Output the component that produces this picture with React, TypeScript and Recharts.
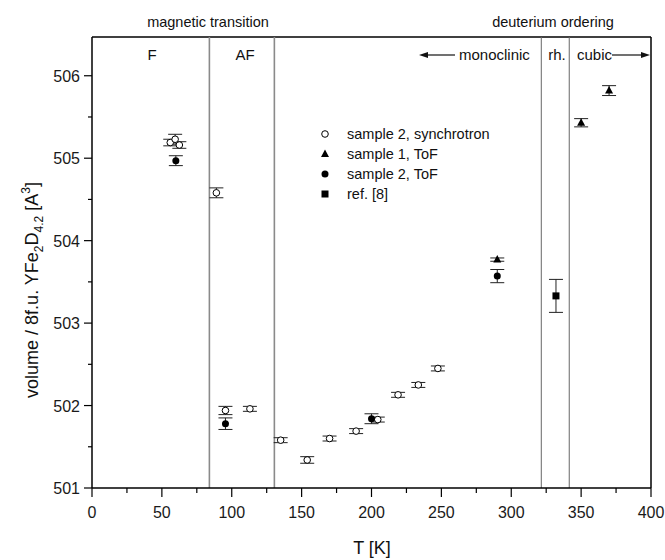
import { ScatterChart, Scatter, XAxis, YAxis, ErrorBar, ReferenceLine } from 'recharts';

// sample 2, synchrotron (open circles)
const syncT = [56, 59.5, 62.5, 89, 95.5, 113, 135, 154, 170, 189, 204.5, 219, 233.5, 247.5];
const syncV = [505.19, 505.23, 505.16, 504.58, 501.94, 501.96, 501.58, 501.34, 501.6, 501.69, 501.83, 502.13, 502.25, 502.45];
const syncErr = [0.04, 0.06, 0.04, 0.06, 0.05, 0.03, 0.03, 0.04, 0.03, 0.03, 0.03, 0.03, 0.03, 0.03];

// sample 1, ToF (triangles)
const s1T = [290, 350, 370];
const s1V = [503.77, 505.43, 505.82];
const s1Err = [0.02, 0.05, 0.06];

// sample 2, ToF (filled circles)
const s2T = [60, 95.5, 200, 290];
const s2V = [504.97, 501.78, 501.84, 503.57];
const s2Err = [0.06, 0.07, 0.06, 0.08];

// ref. [8] (square)
const refT = [332];
const refV = [503.33];
const refErr = [0.2];

const xTicks = [0, 25, 50, 75, 100, 125, 150, 175, 200, 225, 250, 275, 300, 325, 350, 375, 400];
const yTicks = [501, 501.5, 502, 502.5, 503, 503.5, 504, 504.5, 505, 505.5, 506];
const yMax = 506.47;

const phaseLines = [84, 130.5];
const structLines = [321.5, 341.5];

const toRows = (t: number[], v: number[], e: number[]) => t.map((x, i) => ({ x, y: v[i], err: e[i] }));

const syncData = toRows(syncT, syncV, syncErr);
const s1Data = toRows(s1T, s1V, s1Err);
const s2Data = toRows(s2T, s2V, s2Err);
const refData = toRows(refT, refV, refErr);

const FONT = '"Liberation Sans", Arial, sans-serif';

const OpenCircle = (p: any) => <circle cx={p.cx} cy={p.cy} r={3.3} fill="#fff" stroke="#000" strokeWidth={1} />;
const FilledCircle = (p: any) => <circle cx={p.cx} cy={p.cy} r={3.5} fill="#000" />;
const Triangle = (p: any) => (
  <polygon points={`${p.cx},${p.cy - 4.5} ${p.cx - 4},${p.cy + 3} ${p.cx + 4},${p.cy + 3}`} fill="#000" />
);
const Square = (p: any) => <rect x={p.cx - 3.5} y={p.cy - 3.5} width={7} height={7} fill="#000" />;

const XTick = (p: any) => {
  const v = p.payload.value;
  const major = v % 50 === 0;
  return (
    <g>
      <line x1={p.x} x2={p.x} y1={p.y} y2={p.y + (major ? 9 : 5)} stroke="#000" strokeWidth={1.2} />
      {major && (
        <text x={p.x} y={p.y + 30} textAnchor="middle" fontSize={16} fontFamily={FONT} fill="#1a1a1a">
          {v}
        </text>
      )}
    </g>
  );
};

const YTick = (p: any) => {
  const v = p.payload.value;
  const major = Number.isInteger(v);
  return (
    <g>
      <line x1={p.x - (major ? 8 : 4)} x2={p.x} y1={p.y} y2={p.y} stroke="#000" strokeWidth={1.2} />
      {major && (
        <text x={p.x - 12} y={p.y + 6} textAnchor="end" fontSize={16} fontFamily={FONT} fill="#1a1a1a">
          {v}
        </text>
      )}
    </g>
  );
};

const legendItems = [
  { label: 'sample 2, synchrotron', Shape: OpenCircle },
  { label: 'sample 1, ToF', Shape: Triangle },
  { label: 'sample 2, ToF', Shape: FilledCircle },
  { label: 'ref. [8]', Shape: Square },
];

export default function App() {
  return (
    <div style={{ position: 'absolute', left: 0, top: 0, width: 665, height: 560, background: '#fff' }}>
      <ScatterChart width={665} height={560} margin={{ top: 37, right: 14, bottom: 22, left: 32 }}>
        <XAxis
          type="number"
          dataKey="x"
          domain={[0, 400]}
          ticks={xTicks}
          interval={0}
          tickSize={0}
          tickMargin={0}
          tickLine={false}
          tick={<XTick />}
          height={50}
          axisLine={{ stroke: '#000', strokeWidth: 1.5 }}
        />
        <YAxis
          type="number"
          dataKey="y"
          domain={[501, yMax]}
          ticks={yTicks}
          interval={0}
          tickSize={0}
          tickMargin={0}
          tickLine={false}
          tick={<YTick />}
          width={60}
          axisLine={{ stroke: '#000', strokeWidth: 1.5 }}
        />
        <ReferenceLine y={yMax} stroke="#000" strokeWidth={1.5} />
        <ReferenceLine x={400} stroke="#000" strokeWidth={1.5} />
        {phaseLines.map((x) => (
          <ReferenceLine key={x} x={x} stroke="#8a8a8a" strokeWidth={1.6} />
        ))}
        {structLines.map((x) => (
          <ReferenceLine key={x} x={x} stroke="#666" strokeWidth={1} />
        ))}
        <Scatter data={syncData} shape={<OpenCircle />} isAnimationActive={false}>
          <ErrorBar dataKey="err" direction="y" width={7} stroke="#222" strokeWidth={1} />
        </Scatter>
        <Scatter data={s2Data} shape={<FilledCircle />} isAnimationActive={false}>
          <ErrorBar dataKey="err" direction="y" width={7} stroke="#222" strokeWidth={1} />
        </Scatter>
        <Scatter data={s1Data} shape={<Triangle />} isAnimationActive={false}>
          <ErrorBar dataKey="err" direction="y" width={7} stroke="#222" strokeWidth={1} />
        </Scatter>
        <Scatter data={refData} shape={<Square />} isAnimationActive={false}>
          <ErrorBar dataKey="err" direction="y" width={7} stroke="#222" strokeWidth={1} />
        </Scatter>
      </ScatterChart>

      <svg
        width={665}
        height={560}
        style={{ position: 'absolute', left: 0, top: 0, pointerEvents: 'none' }}
        fontFamily={FONT}
        fill="#111"
      >
        {/* labels above the frame */}
        <text x={208} y={27} fontSize={14.5} textAnchor="middle">magnetic transition</text>
        <text x={553} y={27} fontSize={14.5} textAnchor="middle">deuterium ordering</text>

        {/* regions inside the frame */}
        <text x={152} y={60} fontSize={15} textAnchor="middle">F</text>
        <text x={245} y={60} fontSize={15} textAnchor="middle">AF</text>
        <line x1={426} x2={455} y1={55} y2={55} stroke="#111" strokeWidth={1.2} />
        <polygon points="419,55 428,52 428,58" fill="#111" />
        <text x={459} y={60} fontSize={15}>monoclinic</text>
        <text x={557} y={60} fontSize={15} textAnchor="middle">rh.</text>
        <text x={577} y={60} fontSize={15}>cubic</text>
        <line x1={612} x2={644} y1={55} y2={55} stroke="#111" strokeWidth={1.2} />
        <polygon points="650,55 641,52 641,58" fill="#111" />

        {/* legend */}
        {legendItems.map(({ label, Shape }, i) => (
          <g key={label}>
            <Shape cx={325} cy={134 + i * 20} />
            <text x={347} y={139 + i * 20} fontSize={14.5}>{label}</text>
          </g>
        ))}

        {/* axis titles */}
        <text x={372} y={554} fontSize={18} textAnchor="middle">T [K]</text>
        <text transform="translate(38,290) rotate(-90)" fontSize={18} textAnchor="middle">
          volume / 8f.u. YFe
          <tspan fontSize={12} dy={5}>2</tspan>
          <tspan dy={-5}>D</tspan>
          <tspan fontSize={12} dy={5}>4.2</tspan>
          <tspan dy={-5}> [A</tspan>
          <tspan fontSize={12} dy={-8}>3</tspan>
          <tspan dy={8}>]</tspan>
        </text>
      </svg>
    </div>
  );
}
